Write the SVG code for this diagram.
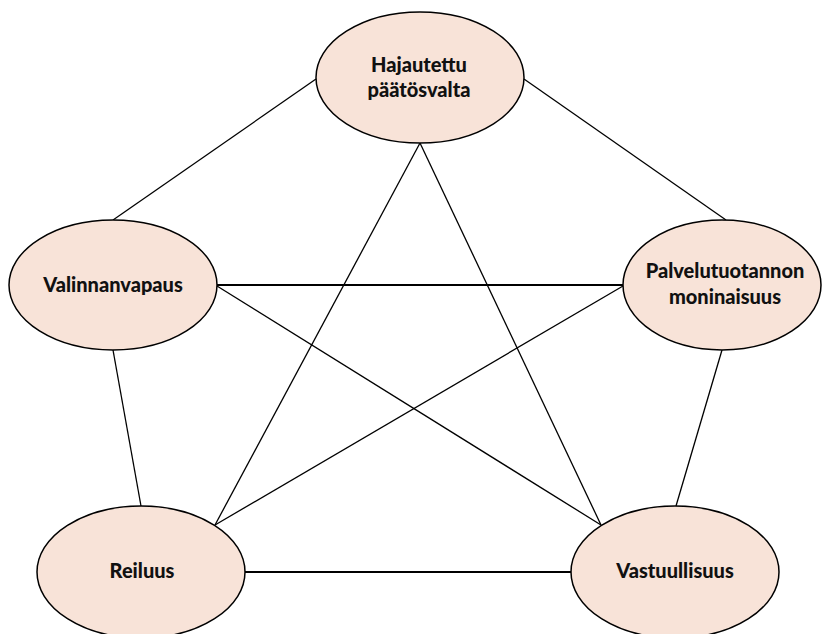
<svg xmlns="http://www.w3.org/2000/svg" width="823" height="634" viewBox="0 0 823 634">
<style>
.node ellipse{fill:#f8e3d8;stroke:#000;stroke-width:1.5}
.node text{font-family:Lato,"Open Sans",sans-serif;font-weight:900;font-size:20px;fill:#111;text-anchor:middle}
.thin{stroke:#000;stroke-width:1.3;fill:none}
.thick{stroke:#000;stroke-width:2.2;fill:none}
</style>
<rect width="823" height="634" fill="#fff"/>
<g id="connectors">
<line class="thin" x1="316" y1="79" x2="113" y2="220"/>
<line class="thin" x1="524" y1="79" x2="726" y2="220"/>
<line class="thin" x1="420" y1="143" x2="215" y2="525"/>
<line class="thin" x1="420" y1="143" x2="601" y2="525"/>
<line class="thick" x1="217" y1="285" x2="623" y2="285"/>
<line class="thin" x1="217" y1="286" x2="601" y2="525"/>
<line class="thin" x1="623" y1="286" x2="215" y2="525"/>
<line class="thin" x1="113" y1="350" x2="141" y2="506"/>
<line class="thin" x1="722" y1="350" x2="676" y2="506"/>
<line class="thick" x1="245" y1="572" x2="572" y2="572"/>
</g>
<g id="hajautettu" class="node">
<ellipse cx="420" cy="77.5" rx="104" ry="65.5"/>
<text x="419" y="72">Hajautettu</text>
<text x="419" y="97">päätösvalta</text>
</g>
<g id="valinnanvapaus" class="node">
<ellipse cx="113" cy="285" rx="104" ry="65"/>
<text x="113" y="292">Valinnanvapaus</text>
</g>
<g id="palvelutuotannon" class="node">
<ellipse cx="722" cy="285" rx="99" ry="65"/>
<text x="725" y="278">Palvelutuotannon</text>
<text x="725" y="304">moninaisuus</text>
</g>
<g id="reiluus" class="node">
<ellipse cx="141" cy="572" rx="104" ry="66"/>
<text x="142" y="578">Reiluus</text>
</g>
<g id="vastuullisuus" class="node">
<ellipse cx="675" cy="572" rx="104" ry="66"/>
<text x="675" y="578">Vastuullisuus</text>
</g>
</svg>
